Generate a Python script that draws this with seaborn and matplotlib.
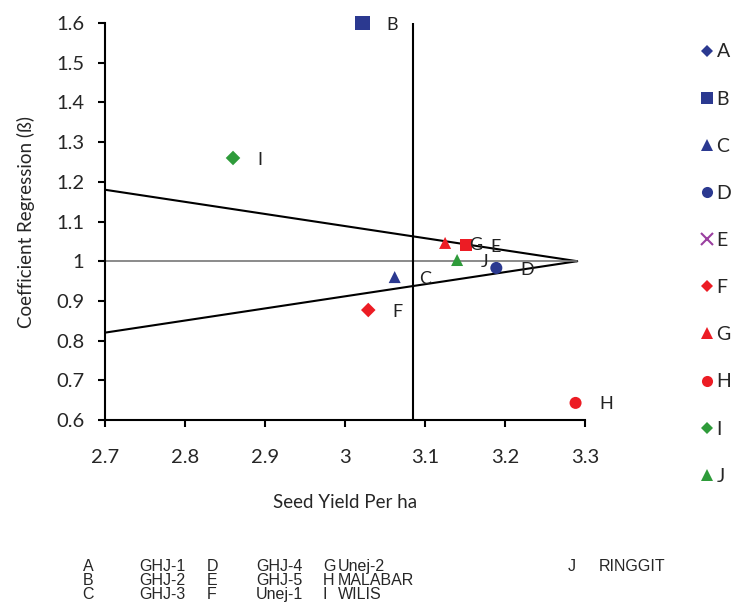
import pandas as pd
import matplotlib.pyplot as plt
from matplotlib.lines import Line2D
import seaborn as sns

# -------------------------------
# Data
# -------------------------------
codes = ["B", "C", "D", "E", "F", "G", "H", "I", "J"]
seed_yield = [3.022, 3.062, 3.189, 3.151, 3.029, 3.125, 3.288, 2.860, 3.140]
coef_reg = [1.600, 0.960, 0.983, 1.041, 0.877, 1.046, 0.643, 1.260, 1.003]

legend_codes = ["A", "B", "C", "D", "E", "F", "G", "H", "I", "J"]
varieties = ["GHJ-1", "GHJ-2", "GHJ-3", "GHJ-4", "GHJ-5",
             "Unej-1", "Unej-2", "MALABAR", "WILIS", "RINGGIT"]

mean_yield = 3.085
mean_coef = 1.0
apex_yield = 3.29
cone_left = [1.18, 0.82]

navy = "#2B3990"
red = "#EC1C24"
green = "#2E9B3A"
purple = "#9A3FA0"
styles = {
    "A": ("D", navy), "B": ("s", navy), "C": ("^", navy), "D": ("o", navy),
    "E": ("s", red), "F": ("D", red), "G": ("^", red), "H": ("o", red),
    "I": ("D", green), "J": ("^", green),
}
legend_styles = dict(styles)
legend_styles["E"] = ("x", purple)

df = pd.DataFrame({"code": codes, "yield": seed_yield, "coef": coef_reg})

# -------------------------------
# Figure
# -------------------------------
sns.set_style("white")
plt.rcParams["font.family"] = ["Lato", "DejaVu Sans"]

fig = plt.figure(figsize=(7.32, 6.14), dpi=100)
ax = fig.add_axes([0.1434, 0.316, 0.656, 0.6465])

# stability cone and reference lines
ax.plot([2.7, apex_yield], [cone_left[0], mean_coef], color="black", lw=1.5, zorder=1)
ax.plot([2.7, apex_yield], [cone_left[1], mean_coef], color="black", lw=1.5, zorder=1)
ax.plot([2.7, apex_yield], [mean_coef, mean_coef], color="#777777", lw=1.2, zorder=1)
ax.axvline(mean_yield, color="black", lw=1.5, zorder=1)

for _, row in df.iterrows():
    m, c = styles[row["code"]]
    size = 75
    if row["code"] == "B":
        size = 110
    if m == "D":
        size = 55
    sns.scatterplot(x=[row["yield"]], y=[row["coef"]], marker=m, color=c,
                    s=size, edgecolor="none", ax=ax, zorder=3, legend=False,
                    clip_on=False)
    ax.text(row["yield"] + 0.03, row["coef"] - 0.004, row["code"], fontsize=13,
            va="center", ha="left", color="#222222", zorder=4)

ax.set_xlim(2.7, 3.3)
ax.set_ylim(0.6, 1.6)
ax.set_xticks([2.7, 2.8, 2.9, 3.0, 3.1, 3.2, 3.3])
ax.set_xticklabels(["2.7", "2.8", "2.9", "3", "3.1", "3.2", "3.3"])
ax.set_yticks([0.6, 0.7, 0.8, 0.9, 1.0, 1.1, 1.2, 1.3, 1.4, 1.5, 1.6])
ax.set_yticklabels(["0.6", "0.7", "0.8", "0.9", "1", "1.1", "1.2", "1.3",
                    "1.4", "1.5", "1.6"])
ax.tick_params(axis="both", labelsize=14.5, direction="out", length=5,
               width=1.5, color="black", left=True, bottom=True)
ax.tick_params(axis="x", pad=16)
ax.tick_params(axis="y", pad=10)
for side in ["top", "right"]:
    ax.spines[side].set_visible(False)
for side in ["left", "bottom"]:
    ax.spines[side].set_color("black")
    ax.spines[side].set_linewidth(1.5)
ax.set_xlabel("Seed Yield Per ha", fontsize=13.5, labelpad=20)
ax.set_ylabel("Coefficient Regression (ß)", fontsize=13.5, labelpad=15)

# legend on the right
handles = []
for code in legend_codes:
    m, c = legend_styles[code]
    handles.append(Line2D([], [], marker=m, color=c, linestyle="none",
                          markersize=8 if m != "D" else 6.5,
                          markeredgewidth=1.5 if m == "x" else 0))
fig.legend(handles, legend_codes, loc="upper left",
           bbox_to_anchor=(0.947, 0.942), frameon=False, fontsize=14,
           handlelength=0.6, handletextpad=0.2, labelspacing=1.55,
           borderaxespad=0)

# key table at the bottom
table_cols = [
    (0.113, legend_codes[0:3]), (0.19, varieties[0:3]),
    (0.282, legend_codes[3:6]), (0.350, varieties[3:6]),
    (0.441, legend_codes[6:9]), (0.461, varieties[6:9]),
    (0.776, legend_codes[9:]), (0.818, varieties[9:]),
]
row_y = [0.077, 0.054, 0.031]
for x, items in table_cols:
    for y, txt in zip(row_y, items):
        fig.text(x, y, txt, fontsize=11.5, va="center", ha="left",
                 family=["Liberation Sans Narrow", "Liberation Sans", "DejaVu Sans"])

fig.savefig("out.png", dpi=100)
